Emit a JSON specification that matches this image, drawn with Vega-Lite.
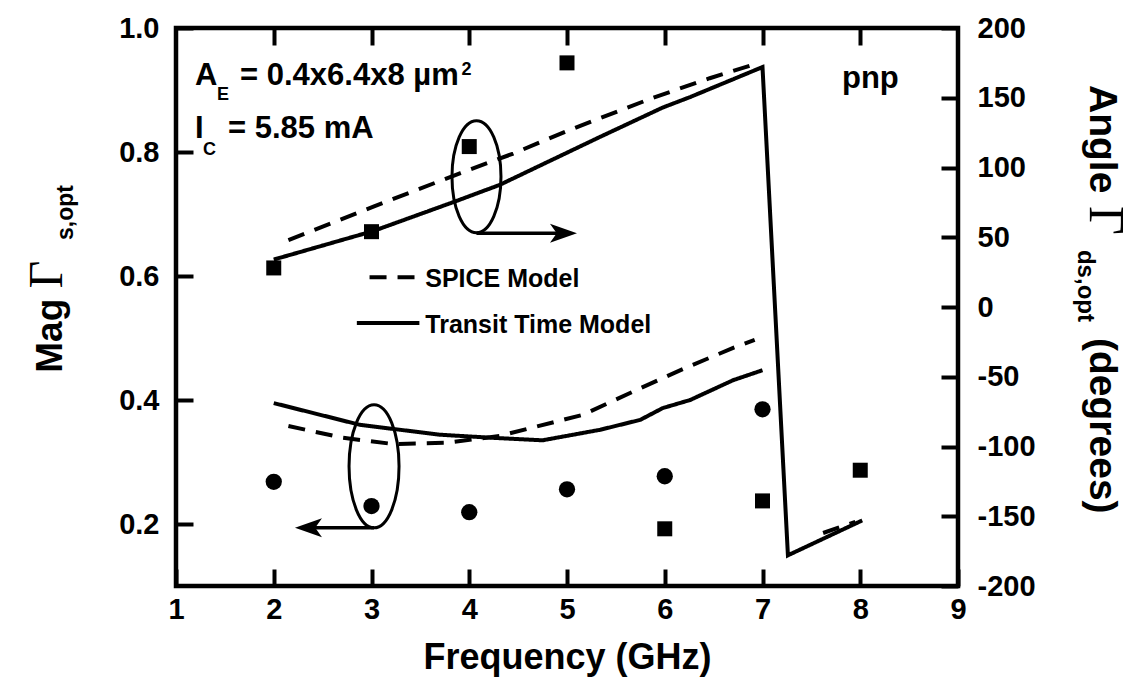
{
  "$schema": "https://vega.github.io/schema/vega-lite/v6.json",
  "width": 782,
  "height": 558,
  "autosize": {"type": "none"},
  "padding": {"left": 176, "top": 28, "right": 179, "bottom": 102},
  "background": "white",
  "config": {
    "view": {"stroke": "black", "strokeWidth": 4.5},
    "font": "Liberation Sans",
    "axis": {"grid": false, "domain": false, "labelFont": "Liberation Sans", "labelFontWeight": "bold", "labelFontSize": 29, "labelColor": "black", "titleColor": "black", "titleFont": "Liberation Sans", "labelFlush": false, "labelOverlap": false},
    "text": {"font": "Liberation Sans", "fontWeight": "bold", "color": "black"}
  },
  "datasets": {
    "circles": [
      {"f": 2, "mag": 0.268}, {"f": 3, "mag": 0.229}, {"f": 4, "mag": 0.219},
      {"f": 5, "mag": 0.256}, {"f": 6, "mag": 0.277}, {"f": 7, "mag": 0.385}
    ],
    "squares": [
      {"f": 2, "ang": 28}, {"f": 3, "ang": 54}, {"f": 4, "ang": 115}, {"f": 5, "ang": 175},
      {"f": 6, "ang": -159}, {"f": 7, "ang": -139}, {"f": 8, "ang": -117}
    ],
    "magLines": [
      {"model": "SPICE", "f": 2.15, "mag": 0.358}, {"model": "SPICE", "f": 2.71, "mag": 0.339},
      {"model": "SPICE", "f": 3.22, "mag": 0.329}, {"model": "SPICE", "f": 3.77, "mag": 0.331},
      {"model": "SPICE", "f": 4.31, "mag": 0.342}, {"model": "SPICE", "f": 5.16, "mag": 0.376},
      {"model": "SPICE", "f": 5.75, "mag": 0.419}, {"model": "SPICE", "f": 6.23, "mag": 0.453},
      {"model": "SPICE", "f": 6.7, "mag": 0.484}, {"model": "SPICE", "f": 6.92, "mag": 0.497},
      {"model": "Transit", "f": 2.0, "mag": 0.395}, {"model": "Transit", "f": 2.88, "mag": 0.36},
      {"model": "Transit", "f": 3.7, "mag": 0.344}, {"model": "Transit", "f": 4.24, "mag": 0.339},
      {"model": "Transit", "f": 4.75, "mag": 0.335}, {"model": "Transit", "f": 5.34, "mag": 0.352},
      {"model": "Transit", "f": 5.75, "mag": 0.368}, {"model": "Transit", "f": 5.98, "mag": 0.387},
      {"model": "Transit", "f": 6.26, "mag": 0.4}, {"model": "Transit", "f": 6.7, "mag": 0.432},
      {"model": "Transit", "f": 7.0, "mag": 0.448}
    ],
    "angLines": [
      {"model": "SPICE", "seg": "a", "f": 2.15, "ang": 48}, {"model": "SPICE", "seg": "a", "f": 3.02, "ang": 72},
      {"model": "SPICE", "seg": "a", "f": 3.91, "ang": 96}, {"model": "SPICE", "seg": "a", "f": 4.45, "ang": 110},
      {"model": "SPICE", "seg": "a", "f": 5.03, "ang": 127}, {"model": "SPICE", "seg": "a", "f": 5.88, "ang": 150},
      {"model": "SPICE", "seg": "a", "f": 6.46, "ang": 164}, {"model": "SPICE", "seg": "a", "f": 6.92, "ang": 174},
      {"model": "SPICE", "seg": "b", "f": 7.62, "ang": -162}, {"model": "SPICE", "seg": "b", "f": 7.95, "ang": -154},
      {"model": "Transit", "seg": "t", "f": 2.0, "ang": 34}, {"model": "Transit", "seg": "t", "f": 3.02, "ang": 54.5},
      {"model": "Transit", "seg": "t", "f": 3.83, "ang": 75}, {"model": "Transit", "seg": "t", "f": 4.31, "ang": 87.5},
      {"model": "Transit", "seg": "t", "f": 5.34, "ang": 122}, {"model": "Transit", "seg": "t", "f": 5.98, "ang": 143},
      {"model": "Transit", "seg": "t", "f": 6.26, "ang": 150.5}, {"model": "Transit", "seg": "t", "f": 7.0, "ang": 172},
      {"model": "Transit", "seg": "t", "f": 7.26, "ang": -178}, {"model": "Transit", "seg": "t", "f": 8.02, "ang": -153}
    ]
  },
  "layer": [
    {
      "encoding": {
        "x": {"field": "f", "type": "quantitative", "scale": {"domain": [1, 9], "nice": false, "zero": false},
              "axis": {"orient": "bottom", "values": [1, 2, 3, 4, 5, 6, 7, 8, 9], "format": "d", "labelPadding": 26,
                       "ticks": true, "tickSize": -17, "tickWidth": 4, "tickColor": "black", "zindex": 2,
                       "title": "Frequency (GHz)", "titleFontSize": 36, "titleFontWeight": "bold", "titlePadding": 16}},
        "y": {"field": "mag", "type": "quantitative", "scale": {"domain": [0.1, 1.0], "nice": false, "zero": false},
              "axis": {"orient": "left", "values": [0.2, 0.4, 0.6, 0.8, 1.0], "format": ".1f", "labelPadding": 34,
                       "ticks": true, "tickSize": -17, "tickWidth": 4, "tickColor": "black", "zindex": 2, "title": null}}
      },
      "layer": [
        {"data": {"name": "magLines"},
         "mark": {"type": "line", "color": "black", "strokeWidth": 4},
         "encoding": {"strokeDash": {"field": "model", "type": "nominal", "scale": {"domain": ["SPICE", "Transit"], "range": [[17, 11], [1, 0]]}, "legend": null}}},
        {"data": {"name": "circles"},
         "mark": {"type": "point", "shape": "circle", "filled": true, "color": "black", "size": 265, "opacity": 1}},
        {"data": {"values": [{"f": 4.074, "mag": 0.76}]},
         "mark": {"type": "point", "shape": "M0.4375,0 C0.4375,0.5523 0.2416,1 0,1 C-0.2416,1 -0.4375,0.5523 -0.4375,0 C-0.4375,-0.5523 -0.2416,-1 0,-1 C0.2416,-1 0.4375,-0.5523 0.4375,0 Z", "filled": false, "color": "black", "strokeWidth": 3, "size": 12544, "opacity": 1}},
        {"data": {"values": [{"f": 3.026, "mag": 0.293}]},
         "mark": {"type": "point", "shape": "M0.4065,0 C0.4065,0.5523 0.2245,1 0,1 C-0.2245,1 -0.4065,0.5523 -0.4065,0 C-0.4065,-0.5523 -0.2245,-1 0,-1 C0.2245,-1 0.4065,-0.5523 0.4065,0 Z", "filled": false, "color": "black", "strokeWidth": 3, "size": 15129, "opacity": 1}},
        {"data": {"values": [{"f": 4.074, "f2": 5.0, "mag": 0.669}, {"f": 3.026, "f2": 2.32, "mag": 0.194}]},
         "mark": {"type": "rule", "color": "black", "strokeWidth": 3.5},
         "encoding": {"x2": {"field": "f2"}}},
        {"data": {"values": [{"f": 5.102, "mag": 0.669}]},
         "mark": {"type": "point", "shape": "M0,0 L-2,-0.7 L-1.5,0 L-2,0.7 Z", "filled": true, "color": "black", "size": 729, "opacity": 1, "strokeWidth": 0}},
        {"data": {"values": [{"f": 2.217, "mag": 0.194}]},
         "mark": {"type": "point", "shape": "M0,0 L2,-0.7 L1.5,0 L2,0.7 Z", "filled": true, "color": "black", "size": 729, "opacity": 1, "strokeWidth": 0}},
        {"data": {"values": [{"model": "SPICE", "f": 2.98, "f2": 3.44, "mag": 0.598}, {"model": "Transit", "f": 2.85, "f2": 3.49, "mag": 0.524}]},
         "mark": {"type": "rule", "color": "black", "strokeWidth": 4},
         "encoding": {"x2": {"field": "f2"}, "strokeDash": {"field": "model", "type": "nominal", "legend": null}}},
        {"data": {"values": [{"f": 3.55, "mag": 0.582, "label": "SPICE Model"}, {"f": 3.55, "mag": 0.508, "label": "Transit Time Model"}]},
         "mark": {"type": "text", "fontSize": 25, "align": "left", "baseline": "alphabetic"},
         "encoding": {"text": {"field": "label"}}},
        {"data": {"values": [
            {"f": 1.194, "mag": 0.908, "label": "A"}, {"f": 1.655, "mag": 0.908, "label": "= 0.4x6.4x8 µm"},
            {"f": 1.194, "mag": 0.823, "label": "I"}, {"f": 1.532, "mag": 0.823, "label": "= 5.85 mA"},
            {"f": 7.813, "mag": 0.903, "label": "pnp"}]},
         "mark": {"type": "text", "fontSize": 31, "align": "left", "baseline": "alphabetic"},
         "encoding": {"text": {"field": "label"}}},
        {"data": {"values": [
            {"f": 1.419, "mag": 0.884, "label": "E"}, {"f": 3.92, "mag": 0.924, "label": "2"},
            {"f": 1.276, "mag": 0.795, "label": "C"}]},
         "mark": {"type": "text", "fontSize": 18, "align": "left", "baseline": "alphabetic"},
         "encoding": {"text": {"field": "label"}}},
        {"data": {"values": [{"f": -0.166, "mag": 0.444, "label": "Mag"}]},
         "mark": {"type": "text", "fontSize": 37, "angle": 270, "align": "left", "baseline": "alphabetic"},
         "encoding": {"text": {"field": "label"}}},
        {"data": {"values": [{"f": -0.166, "mag": 0.58, "label": "Γ"}]},
         "mark": {"type": "text", "font": "Liberation Serif", "fontWeight": "normal", "fontSize": 48, "angle": 270, "align": "left", "baseline": "alphabetic"},
         "encoding": {"text": {"field": "label"}}},
        {"data": {"values": [{"f": 10.35, "mag": 0.713, "label": "Γ"}]},
         "mark": {"type": "text", "font": "Liberation Serif", "fontWeight": "normal", "fontSize": 50, "angle": 90, "align": "left", "baseline": "alphabetic"},
         "encoding": {"text": {"field": "label"}}},
        {"data": {"values": [{"f": -0.054, "mag": 0.658, "label": "s,opt"}]},
         "mark": {"type": "text", "fontSize": 23, "angle": 270, "align": "left", "baseline": "alphabetic"},
         "encoding": {"text": {"field": "label"}}},
        {"data": {"values": [{"f": 10.35, "mag": 0.908, "label": "Angle"}, {"f": 10.35, "mag": 0.5, "label": "(degrees)"}]},
         "mark": {"type": "text", "fontSize": 39, "angle": 90, "align": "left", "baseline": "alphabetic"},
         "encoding": {"text": {"field": "label"}}},
        {"data": {"values": [{"f": 10.23, "mag": 0.642, "label": "ds,opt"}]},
         "mark": {"type": "text", "fontSize": 24, "angle": 90, "align": "left", "baseline": "alphabetic"},
         "encoding": {"text": {"field": "label"}}}
      ]
    },
    {
      "encoding": {
        "x": {"field": "f", "type": "quantitative", "scale": {"domain": [1, 9], "nice": false, "zero": false},
              "axis": {"orient": "top", "values": [2, 3, 4, 5, 6, 7, 8], "labels": false, "ticks": true, "tickSize": -17, "tickWidth": 4, "tickColor": "black", "zindex": 2, "title": null}},
        "y": {"field": "ang", "type": "quantitative", "scale": {"domain": [-200, 200], "nice": false, "zero": false},
              "axis": {"orient": "right", "values": [-200, -150, -100, -50, 0, 50, 100, 150, 200], "labelExpr": "datum.value + ''", "labelPadding": 36,
                       "ticks": true, "tickSize": -17, "tickWidth": 4, "tickColor": "black", "zindex": 2, "title": null}}
      },
      "layer": [
        {"data": {"name": "angLines"},
         "mark": {"type": "line", "color": "black", "strokeWidth": 4},
         "encoding": {"detail": {"field": "seg"}, "strokeDash": {"field": "model", "type": "nominal", "legend": null}}},
        {"data": {"name": "squares"},
         "mark": {"type": "point", "shape": "square", "filled": true, "color": "black", "size": 225, "opacity": 1}}
      ]
    }
  ],
  "resolve": {"scale": {"y": "independent"}}
}
